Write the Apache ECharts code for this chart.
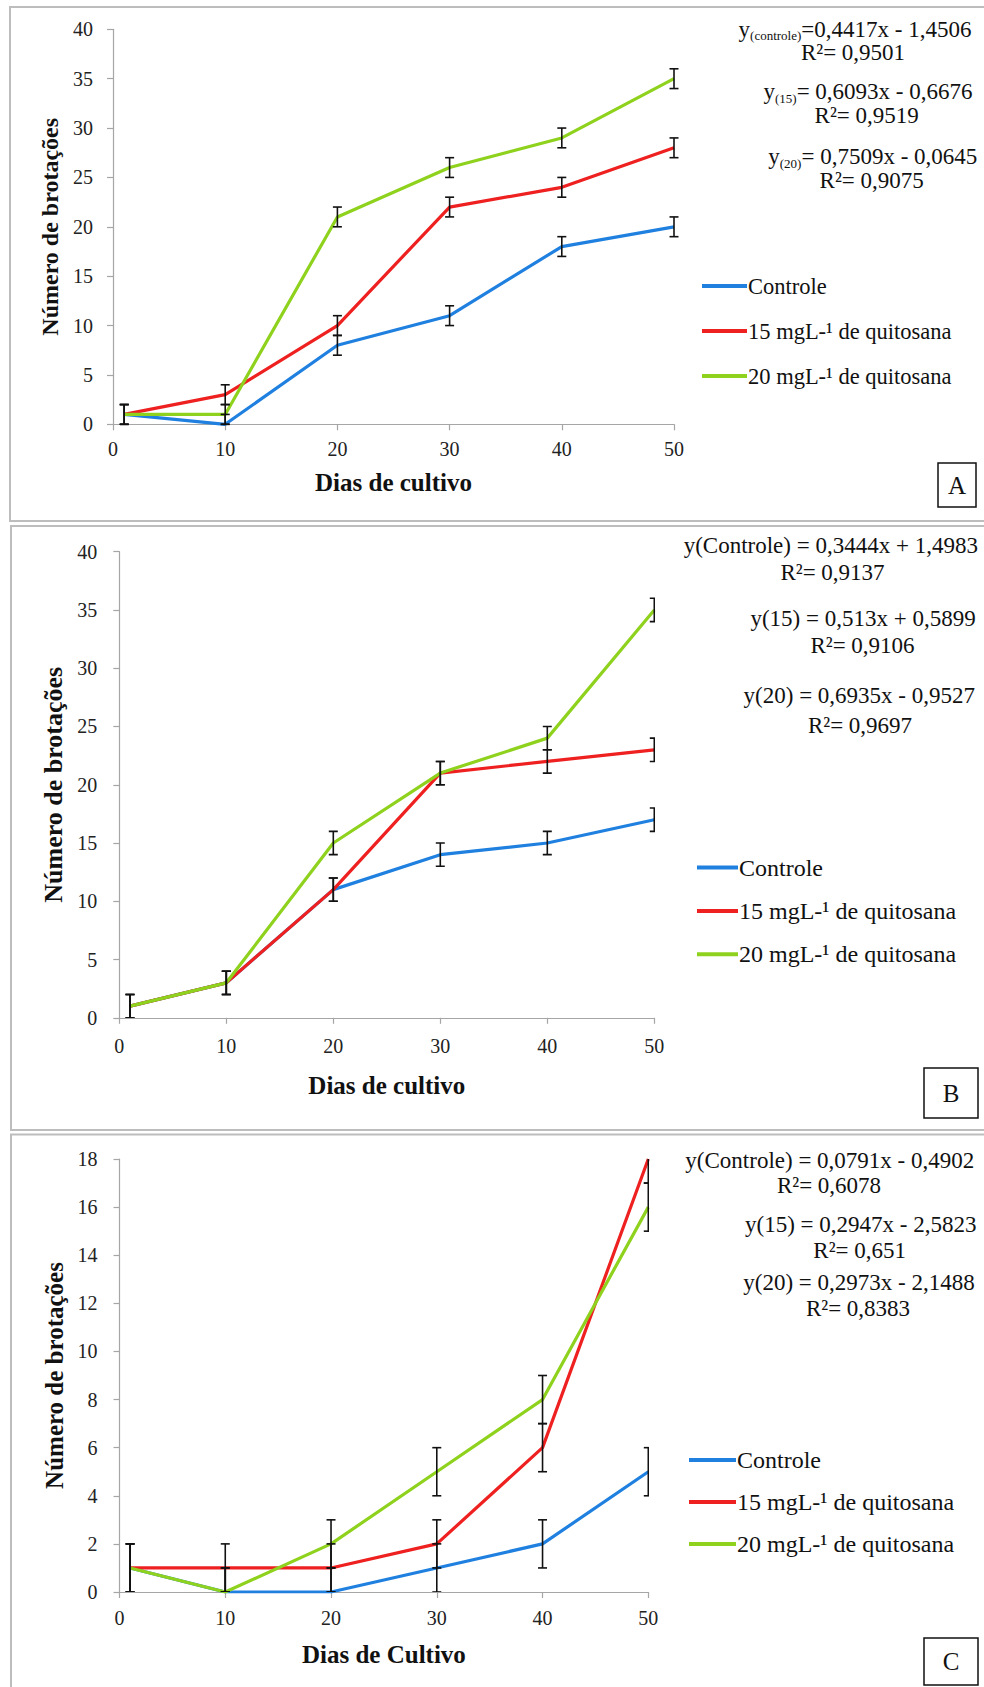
<!DOCTYPE html>
<html>
<head>
<meta charset="utf-8">
<script src="https://cdn.jsdelivr.net/npm/echarts@6/dist/echarts.min.js"></script>
<style>
html,body{margin:0;padding:0;background:#fff;}
#chart{width:984px;height:1687px;}
</style>
</head>
<body>
<div id="chart"></div>
<script>
// ---------- data ----------
const days = [1, 10, 20, 30, 40, 50];
const seriesNames = ['Controle', '15 mgL-¹ de quitosana', '20 mgL-¹ de quitosana'];
const xTickLabels = [0, 10, 20, 30, 40, 50];

const aControle = [1, 0, 8, 11, 18, 20];
const a15 = [1, 3, 10, 22, 24, 28];
const a20 = [1, 1, 21, 26, 29, 35];
const errA = [1, 1, 1, 1, 1, 1];

const bControle = [1, 3, 11, 14, 15, 17];
const b15 = [1, 3, 11, 21, 22, 23];
const b20 = [1, 3, 15, 21, 24, 35];
const errB = [1, 1, 1, 1, 1, 1];

const cControle = [1, 0, 0, 1, 2, 5];
const c15 = [1, 1, 1, 2, 6, 18];
const c20 = [1, 0, 2, 5, 8, 16];
const errC = [1, 1, 1, 1, 1, 1];

const eqA = [['(controle)', '=0,4417x - 1,4506', 'R²= 0,9501'], ['(15)', '= 0,6093x - 0,6676', 'R²= 0,9519'], ['(20)', '= 0,7509x - 0,0645', 'R²= 0,9075']];
const eqB = [['y(Controle) = 0,3444x + 1,4983', 'R²= 0,9137'], ['y(15) = 0,513x + 0,5899', 'R²= 0,9106'], ['y(20) = 0,6935x - 0,9527', 'R²= 0,9697']];
const eqC = [['y(Controle) = 0,0791x - 0,4902', 'R²= 0,6078'], ['y(15) = 0,2947x - 2,5823', 'R²= 0,651'], ['y(20) = 0,2973x - 2,1488', 'R²= 0,8383']];

// ---------- styling ----------
const FONT = 'Liberation Serif, serif';
const colors = ['#1f80e0', '#ee2020', '#8fd21e'];
const axisGray = '#a6a6a6';

const chart = echarts.init(document.getElementById('chart'), null, {renderer: 'svg'});

function xAx(gi, name, margin, nameGap) {
  return {
    gridIndex: gi, type: 'value', min: 0, max: 50, interval: 10,
    name: name, nameLocation: 'middle', nameGap: nameGap,
    nameTextStyle: {fontFamily: FONT, fontSize: 25, fontWeight: 'bold', color: '#111'},
    axisLine: {show: true, onZero: false, lineStyle: {color: axisGray, width: 1.2}},
    axisTick: {show: true, inside: false, length: 6, lineStyle: {color: axisGray, width: 1.2}},
    axisLabel: {margin: margin, fontFamily: FONT, fontSize: 20, color: '#222',
      formatter: v => (xTickLabels.indexOf(v) >= 0 ? String(v) : '')},
    splitLine: {show: false}
  };
}
function yAx(gi, max, interval, margin, nameGap, nameSize) {
  return {
    gridIndex: gi, type: 'value', min: 0, max: max, interval: interval,
    name: 'Número de brotações', nameLocation: 'middle', nameGap: nameGap, nameRotate: 90,
    nameTextStyle: {fontFamily: FONT, fontSize: nameSize, fontWeight: 'bold', color: '#111'},
    axisLine: {show: true, lineStyle: {color: axisGray, width: 1.2}},
    axisTick: {show: true, inside: false, length: 6, lineStyle: {color: axisGray, width: 1.2}},
    axisLabel: {margin: margin, fontFamily: FONT, fontSize: 20, color: '#222'},
    splitLine: {show: false}
  };
}

function lineSeries(gi, idx, vals) {
  return {
    type: 'line', name: seriesNames[idx], xAxisIndex: gi, yAxisIndex: gi,
    data: days.map((d, i) => [d, vals[i]]),
    symbol: 'none', showSymbol: false, color: colors[idx],
    lineStyle: {width: 3.2, color: colors[idx]}, z: 3, animation: false
  };
}
function errRender(params, api) {
  const x = api.value(0), lo = api.value(1), hi = api.value(2);
  const p1 = api.coord([x, lo]);
  const p2 = api.coord([x, hi]);
  const w = 4.5;
  const st = {stroke: '#111', lineWidth: 1.6};
  return {type: 'group', children: [
    {type: 'line', shape: {x1: p1[0], y1: p1[1], x2: p2[0], y2: p2[1]}, style: st},
    {type: 'line', shape: {x1: p1[0] - w, y1: p1[1], x2: p1[0] + w, y2: p1[1]}, style: st},
    {type: 'line', shape: {x1: p2[0] - w, y1: p2[1], x2: p2[0] + w, y2: p2[1]}, style: st}
  ]};
}
function errSeries(gi, vals, errs, clip) {
  return {
    type: 'custom', xAxisIndex: gi, yAxisIndex: gi, clip: clip, silent: true, z: 5,
    renderItem: errRender, encode: {x: 0, y: [1, 2]},
    data: days.map((d, i) => [d, Math.max(0, vals[i] - errs[i]), vals[i] + errs[i]])
  };
}
function legendAt(left, top, itemWidth, gap, fs) {
  return {
    orient: 'vertical', left: left, top: top, padding: 0, icon: 'rect', itemWidth: itemWidth, itemHeight: 4,
    itemGap: gap, data: seriesNames, selectedMode: false,
    textStyle: {fontFamily: FONT, fontSize: fs, color: '#111', lineHeight: 24, padding: [0, 0, 0, -4]}
  };
}

// ---------- graphics (frames, panel letters, regression equations) ----------
const graphics = [];
function frame(x, y, w, h) {
  graphics.push({type: 'rect', shape: {x: x, y: y, width: w, height: h}, silent: true, z: -10,
    style: {fill: 'none', stroke: '#bdbdbd', lineWidth: 2}});
}
function letterBox(x, y, w, h, t) {
  graphics.push({type: 'rect', shape: {x: x, y: y, width: w, height: h}, silent: true,
    style: {fill: '#fff', stroke: '#111', lineWidth: 1.5}});
  graphics.push({type: 'text', x: x + w / 2, y: y + h / 2, silent: true,
    style: {text: t, fontFamily: FONT, fontSize: 25, fill: '#111', align: 'center', verticalAlign: 'middle'}});
}
function txt(x, y, t) {
  graphics.push({type: 'text', x: x, y: y, silent: true,
    style: {text: t, fontFamily: FONT, fontSize: 23, fill: '#111', align: 'center', verticalAlign: 'middle'}});
}
function subTxt(x, y, sub, rest) {
  graphics.push({type: 'text', x: x, y: y, silent: true,
    style: {text: '{m|y}{s|' + sub + '}{m|' + rest + '}', align: 'center', verticalAlign: 'middle', fill: '#111',
      rich: {m: {fontFamily: FONT, fontSize: 23, lineHeight: 26, fill: '#111'},
             s: {fontFamily: FONT, fontSize: 13, lineHeight: 26, verticalAlign: 'bottom', fill: '#111'}}}});
}
frame(10, 7, 990, 514);
frame(11, 526, 990, 604);
frame(11, 1134.5, 990, 600);
letterBox(938, 463, 38, 44, 'A');
letterBox(924, 1068, 54, 50, 'B');
letterBox(924, 1638, 54, 47, 'C');

const eqAPos = [[855, 29, 853, 52.5], [868, 91.5, 866.7, 115], [872.8, 156.5, 871.7, 180]];
eqA.forEach((e, i) => { const p = eqAPos[i]; subTxt(p[0], p[1], e[0], e[1]); txt(p[2], p[3], e[2]); });
const eqBPos = [[830.8, 545, 832.5, 572], [863, 618.5, 862.5, 645.5], [859.3, 695, 860, 725]];
eqB.forEach((e, i) => { const p = eqBPos[i]; txt(p[0], p[1], e[0]); txt(p[2], p[3], e[1]); });
const eqCPos = [[829.8, 1160, 829, 1185.5], [860.7, 1224.5, 859.7, 1250.5], [859, 1282, 858, 1308]];
eqC.forEach((e, i) => { const p = eqCPos[i]; txt(p[0], p[1], e[0]); txt(p[2], p[3], e[1]); });

const option = {
  backgroundColor: '#fff',
  animation: false,
  textStyle: {fontFamily: FONT},
  grid: [
    {left: 113, top: 29.3, width: 561, height: 395, outerBoundsMode: 'none', containLabel: false},
    {left: 119.3, top: 551.7, width: 535, height: 466.1, outerBoundsMode: 'none', containLabel: false},
    {left: 119.5, top: 1159, width: 528.8, height: 433, outerBoundsMode: 'none', containLabel: false}
  ],
  xAxis: [
    xAx(0, 'Dias de cultivo', 15, 46),
    xAx(1, 'Dias de cultivo', 18, 55),
    xAx(2, 'Dias de Cultivo', 16, 50)
  ],
  yAxis: [
    yAx(0, 40, 5, 20, 45, 24),
    yAx(1, 40, 5, 22, 51, 26),
    yAx(2, 18, 2, 22, 52, 25)
  ],
  legend: [
    legendAt(702, 274, 45, 21, 22.5),
    legendAt(697, 855.5, 41, 19.4, 24),
    legendAt(689, 1448, 47, 18, 24)
  ],
  graphic: graphics,
  series: [
    lineSeries(0, 0, aControle), lineSeries(0, 1, a15), lineSeries(0, 2, a20),
    errSeries(0, aControle, errA, false), errSeries(0, a15, errA, false), errSeries(0, a20, errA, false),
    lineSeries(1, 0, bControle), lineSeries(1, 1, b15), lineSeries(1, 2, b20),
    errSeries(1, bControle, errB, true), errSeries(1, b15, errB, true), errSeries(1, b20, errB, true),
    lineSeries(2, 0, cControle), lineSeries(2, 1, c15), lineSeries(2, 2, c20),
    errSeries(2, cControle, errC, true), errSeries(2, c15, errC, true), errSeries(2, c20, errC, true)
  ]
};
chart.setOption(option);
</script>
</body>
</html>
